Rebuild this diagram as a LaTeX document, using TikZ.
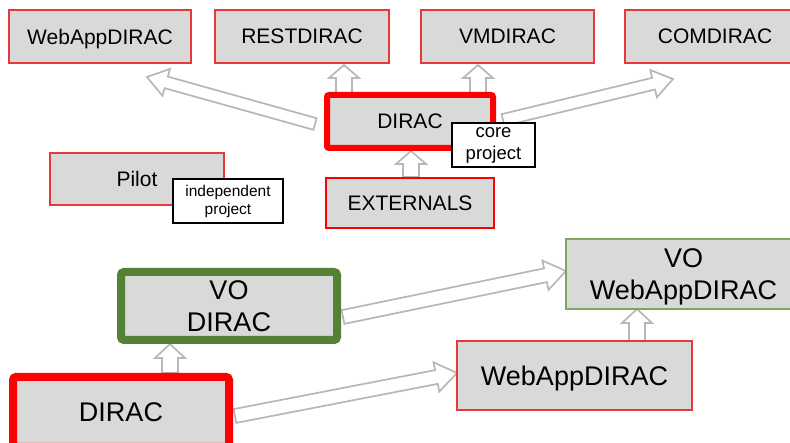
\documentclass[tikz,border=0pt]{standalone}
\usepackage{fontspec}
\setmainfont{Liberation Sans}
\usetikzlibrary{calc}
\definecolor{boxgray}{HTML}{D9D9D9}
\definecolor{arrgray}{HTML}{B7B7B7}
\definecolor{thinred}{HTML}{E8383A}
\definecolor{darkgreen}{HTML}{548235}
\definecolor{thingreen}{HTML}{7FA55E}
\newcommand\blockarrow[5]{%
  \coordinate (bah) at ($(#2)!#5!(#1)$);
  \draw[blockarr] ($(#1)!#3!90:(#2)$) -- ($(bah)!#3!90:(#2)$) -- ($(bah)!#4!90:(#2)$) -- (#2)
    -- ($(bah)!#4!-90:(#2)$) -- ($(bah)!#3!-90:(#2)$) -- ($(#1)!#3!-90:(#2)$) -- cycle;}
\tikzset{
  blockarr/.style={draw=arrgray, fill=white, line width=1.7pt, line join=miter},
  thinbox/.style={draw=thinred, fill=boxgray, line width=1.3pt, inner sep=0pt, text depth=0pt,
    font=\fontsize{21}{24}\selectfont},
  thickred/.style={draw=red, fill=boxgray, line width=6pt, inner sep=0pt, rounded corners=2pt,
    text depth=0pt, font=\fontsize{21}{24}\selectfont},
  bigred/.style={draw=red, fill=boxgray, line width=8pt, inner sep=0pt, rounded corners=3pt,
    text depth=0pt, font=\fontsize{27}{32}\selectfont},
  biggreen/.style={draw=darkgreen, fill=boxgray, line width=8pt, inner sep=0pt, rounded corners=3pt,
    align=center, font=\fontsize{27}{32}\selectfont},
  bigthin/.style={fill=boxgray, line width=1.5pt, inner sep=0pt, align=center, text depth=0pt,
    font=\fontsize{27}{32}\selectfont},
  notebox/.style={draw=black, fill=white, line width=1.2pt, inner sep=0pt, align=center}
}
\begin{document}
\begin{tikzpicture}[x=1pt,y=-1pt]
\useasboundingbox (0,0) rectangle (790,443);
% arrow endpoints
\coordinate (t1) at (315,124); \coordinate (h1) at (147,77);
\coordinate (t2) at (503,120); \coordinate (h2) at (673,79);
\coordinate (t3) at (344,93);  \coordinate (h3) at (344,65);
\coordinate (t4) at (478,93);  \coordinate (h4) at (478,65);
\coordinate (t5) at (411,177); \coordinate (h5) at (411,151);
\coordinate (t6) at (170,373); \coordinate (h6) at (170,344);
\coordinate (t7) at (637,341); \coordinate (h7) at (637,309);
\coordinate (t8) at (343,317); \coordinate (h8) at (566,271);
\coordinate (t9) at (235,416); \coordinate (h9) at (457,373);
\blockarrow{t1}{h1}{6pt}{14pt}{20pt}
\blockarrow{t2}{h2}{6pt}{14pt}{20pt}
\blockarrow{t3}{h3}{8pt}{15pt}{13pt}
\blockarrow{t4}{h4}{8pt}{15pt}{13pt}
\blockarrow{t5}{h5}{8pt}{15pt}{13pt}
\blockarrow{t6}{h6}{8pt}{15pt}{14pt}
\blockarrow{t7}{h7}{8pt}{15pt}{14pt}
\blockarrow{t8}{h8}{7pt}{15pt}{21pt}
\blockarrow{t9}{h9}{7pt}{15pt}{21pt}
% top row
\node[thinbox, minimum width=182pt, minimum height=53pt] (webtop) at (100,36.5) {WebAppDIRAC};
\node[thinbox, minimum width=174pt, minimum height=53pt] (rest) at (302,36.5) {RESTDIRAC};
\node[thinbox, minimum width=173pt, minimum height=53pt] (vm) at (507.5,36.5) {VMDIRAC};
\node[thinbox, minimum width=180pt, minimum height=53pt] (com) at (715,36.5) {COMDIRAC};
% core
\node[thickred, minimum width=166pt, minimum height=53pt] (dirac) at (410,121.5) {DIRAC};
\node[notebox, minimum width=83pt, minimum height=44pt, font=\fontsize{18.5}{22}\selectfont] (core) at (493.5,145) {core\\project};
\node[thinbox, draw=red, line width=2pt, minimum width=168pt, minimum height=50pt] (ext) at (410,203) {EXTERNALS};
\node[thinbox, minimum width=174pt, minimum height=52pt] (pilot) at (137,179) {Pilot};
\node[notebox, minimum width=110pt, minimum height=44pt, font=\fontsize{15.5}{18}\selectfont] (indep) at (228,201) {independent\\project};
% bottom
\node[biggreen, minimum width=216pt, minimum height=68pt] (vodirac) at (229,306) {VO\\DIRAC};
\node[bigred, minimum width=216pt, minimum height=70pt] (dirac2) at (121,412) {DIRAC};
\node[bigthin, draw=thingreen, minimum width=235pt, minimum height=70pt] (voweb) at (683.5,274) {VO\\WebAppDIRAC};
\node[bigthin, draw=thinred, minimum width=235pt, minimum height=69pt] (web2) at (574.5,375.5) {WebAppDIRAC};
\end{tikzpicture}
\end{document}
